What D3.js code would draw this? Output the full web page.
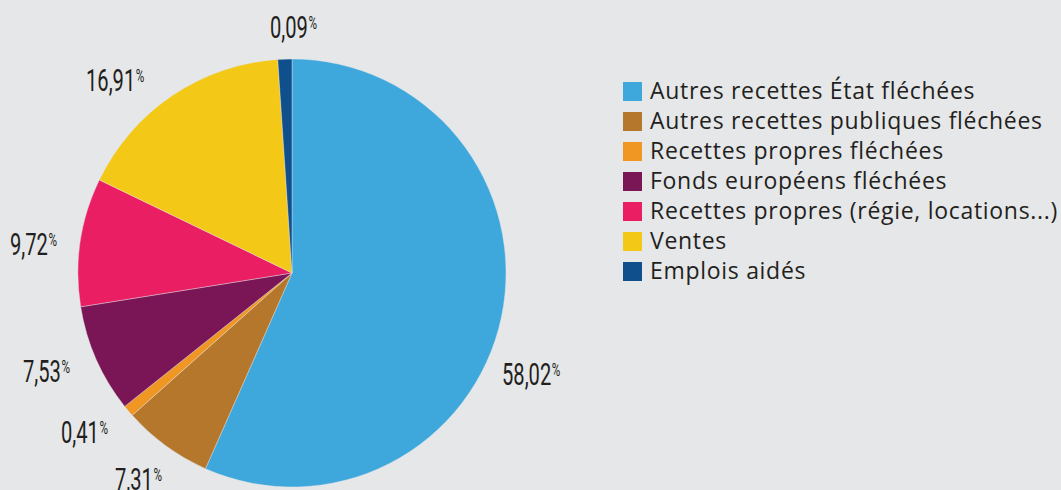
<!DOCTYPE html>
<html>
<head>
<meta charset="utf-8">
<script src="https://cdn.jsdelivr.net/npm/d3@7"></script>
<style>
  body { margin: 0; background: #e6e7e9; }
  svg { display: block; }
</style>
</head>
<body>
<div id="chart"></div>
<script>
// categories, in drawing order (clockwise from 12 o'clock)
const categories = [
  "Autres recettes État fléchées",
  "Autres recettes publiques fléchées",
  "Recettes propres fléchées",
  "Fonds européens fléchées",
  "Recettes propres (régie, locations...)",
  "Ventes",
  "Emplois aidés"
];
// slice sizes as drawn in the picture (%)
const shares = [56.7, 6.8, 0.87, 8.2, 9.7, 16.8, 1.06];
// printed labels
const pctLabels = ["58,02", "7,31", "0,41", "7,53", "9,72", "16,91", "0,09"];
const colors = ["#3ea8dc", "#b5772b", "#ef9623", "#7b1656", "#e91e63", "#f4c816", "#0f4f8b"];

let width = 1061,
  height = 490,
  cx = 292,
  cy = 273,
  radius = 214;

let numFont = "Roboto, 'Liberation Sans Narrow', sans-serif";

let svg = d3.select("#chart")
  .append("svg")
  .attr("width", width)
  .attr("height", height);

svg.append("rect")
  .attr("width", width)
  .attr("height", height)
  .attr("fill", "#e6e7e9");

let pie = d3.pie().sort(null).value((d) => d);
let arcs = pie(shares);
let arc = d3.arc().innerRadius(0).outerRadius(radius);

let g = svg.append("g").attr("transform", "translate(" + cx + "," + cy + ")");

g.selectAll("path")
  .data(arcs)
  .enter()
  .append("path")
  .attr("d", arc)
  .attr("fill", (d, i) => colors[i])
  .attr("stroke", "#e6e7e9")
  .attr("stroke-width", 0.4);

// label positions (left x, baseline y) as placed in the picture
const labelPos = [
  [502, 385], [115, 490], [61, 443], [23, 382], [10, 255], [86, 91], [270, 38]
];

// condensed numbers: squeeze horizontally
let labels = svg.selectAll(".pct")
  .data(pctLabels)
  .enter()
  .append("text")
  .attr("class", "pct")
  .attr("transform", (d, i) => "translate(" + labelPos[i][0] + "," + labelPos[i][1] + ") scale(0.65,1)")
  .attr("font-family", numFont)
  .attr("font-size", 31)
  .attr("fill", "#231f20");

labels.append("tspan").text((d) => d);

labels.append("tspan")
  .attr("dx", 1)
  .attr("dy", -9)
  .attr("font-size", 18)
  .text("%");

// legend
let legend = svg.append("g")
  .attr("transform", "translate(623,82)");

let rows = legend.selectAll("g")
  .data(categories)
  .enter()
  .append("g")
  .attr("transform", (d, i) => "translate(0," + i * 30 + ")");

rows.append("rect")
  .attr("width", 19)
  .attr("height", 19)
  .attr("fill", (d, i) => colors[i]);

rows.append("text")
  .attr("x", 27)
  .attr("y", 17)
  .attr("font-family", "'Open Sans', 'Noto Sans', sans-serif")
  .attr("font-size", 23)
  .attr("letter-spacing", 0.7)
  .attr("fill", "#231f20")
  .text((d) => d);
</script>
</body>
</html>
